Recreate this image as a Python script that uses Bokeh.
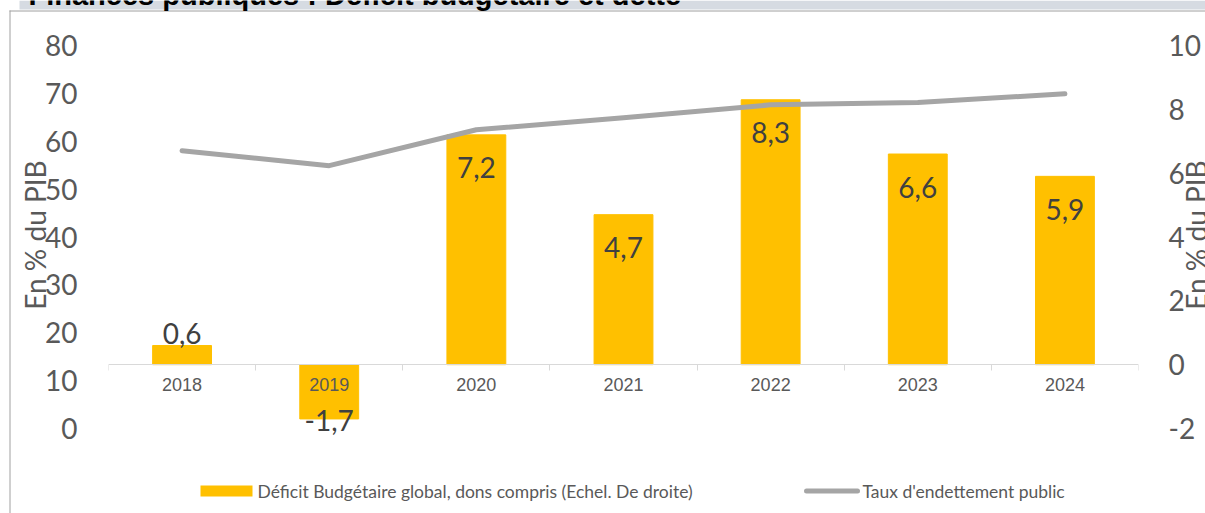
import math
from bokeh.plotting import figure
from bokeh.models import (Range1d, LinearAxis, FixedTicker, CustomJSTickFormatter, LabelSet, Label,
                          ColumnDataSource)
from bokeh.core.properties import value
from bokeh.embed import file_html
from bokeh.resources import INLINE

# ---------------- data ----------------
title = "Finances publiques : Déficit budgétaire et dette"
years = ["2018", "2019", "2020", "2021", "2022", "2023", "2024"]
deficit = [0.6, -1.7, 7.2, 4.7, 8.3, 6.6, 5.9]          # right axis
debt = [58.0, 54.9, 62.4, 64.9, 67.6, 68.1, 69.9]        # left axis
deficit_name = "Déficit Budgétaire global, dons compris (Echel. De droite)"
debt_name = "Taux d'endettement public"
axis_title = "En % du PIB"
left_ticks = list(range(0, 81, 10))
right_ticks = list(range(-2, 11, 2))

# ---------------- layout (pixels) ----------------
W, H = 1205, 513
FRAME_L, FRAME_R, FRAME_T, FRAME_B = 108, 1138, 45, 428   # plot area of the value scales
EXTRA = 14                                                # room below for the negative label
BAR_COL, LINE_COL = "#ffc000", "#a5a5a5"
TXT = "#595959"
ABS = {"position": "absolute", "left": "0px", "top": "0px"}

# ---------- background sheet: band, frame, titles, legend ----------
bg = figure(width=W, height=H, x_range=Range1d(0, W), y_range=Range1d(H, 0),
            x_axis_type=None, y_axis_type=None, toolbar_location=None, output_backend="svg",
            min_border=0)
bg.styles = ABS
bg.outline_line_color = None
bg.background_fill_color = "white"
bg.border_fill_color = "white"
bg.quad(left=19, right=W, top=0, bottom=9, fill_color="#d6dbe2", line_color=None)
bg.segment(x0=[9.5, 9], y0=[10, 10.5], x1=[9.5, W], y1=[H, 10.5], line_color="#a0a0a0", line_width=1)
bg.add_layout(Label(x=28, y=-6, text=title, text_font="Liberation Sans", text_font_style="bold",
                    text_font_size="29px", text_color="black", text_baseline="alphabetic"))
for xs in (34, 1195):
    bg.add_layout(Label(x=xs, y=(FRAME_T + FRAME_B) / 2 - 2, text=axis_title, angle=math.pi / 2,
                        text_align="center", text_baseline="middle",
                        text_font="Lato", text_font_size="28px", text_color=TXT))
# legend
leg_y = 490.5
bg.quad(left=200, right=252, top=leg_y - 5.5, bottom=leg_y + 5.5, fill_color=BAR_COL, line_color=None)
bg.segment(x0=[806], y0=[leg_y], x1=[857], y1=[leg_y], line_color=LINE_COL, line_width=5, line_cap="round")
bg.text(x=[257, 862], y=[leg_y, leg_y], text=[deficit_name, debt_name], text_baseline="middle",
        text_align="left", text_font=value("Lato"), text_font_size="17.5px", text_color=TXT)

# ---------------- main chart ----------------
left_px_per_unit = (FRAME_B - FRAME_T) / (left_ticks[-1] - left_ticks[0])
right_px_per_unit = (FRAME_B - FRAME_T) / (right_ticks[-1] - right_ticks[0])

p = figure(width=W, height=H, x_range=Range1d(-0.5, len(years) - 0.5),
           y_range=Range1d(left_ticks[0] - EXTRA / left_px_per_unit, left_ticks[-1]),
           x_axis_type=None, y_axis_type=None, toolbar_location=None, output_backend="svg",
           min_border_left=FRAME_L, min_border_right=W - FRAME_R, min_border_top=FRAME_T,
           min_border_bottom=H - FRAME_B - EXTRA)
p.styles = ABS
p.extra_y_ranges = {"right": Range1d(right_ticks[0] - EXTRA / right_px_per_unit, right_ticks[-1])}
p.outline_line_color = None
p.background_fill_alpha = 0
p.border_fill_alpha = 0

idx = list(range(len(years)))


def lab_offset(v):
    if v < 0:
        return -2
    if v < 2:
        return 12
    return -33


src = ColumnDataSource(dict(
    x=idx, deficit=deficit, debt=debt,
    lab=[f"{v:.1f}".replace(".", ",") for v in deficit],
    off=[lab_offset(v) for v in deficit],
))

p.vbar(x="x", top="deficit", bottom=0, width=0.4, color=BAR_COL, y_range_name="right", source=src)
p.line(x="x", y="debt", line_color=LINE_COL, line_width=5, line_join="round", line_cap="round", source=src)

fmt = CustomJSTickFormatter(code="return tick.toFixed(0)")
tick_font = dict(major_label_text_font="Lato", major_label_text_font_size="28px", major_label_text_color=TXT)
ly = LinearAxis(ticker=FixedTicker(ticks=left_ticks), formatter=fmt, axis_line_color=None,
                major_tick_line_color=None, minor_tick_line_color=None, major_tick_out=0, major_tick_in=0,
                major_label_standoff=31, **tick_font)
p.add_layout(ly, "left")
ry = LinearAxis(y_range_name="right", ticker=FixedTicker(ticks=right_ticks), formatter=fmt,
                axis_line_color=None, major_tick_line_color=None, minor_tick_line_color=None,
                major_tick_out=0, major_tick_in=0, major_label_standoff=30, **tick_font)
p.add_layout(ry, "right")

xa = LinearAxis(y_range_name="right", fixed_location=0,
                ticker=FixedTicker(ticks=idx, minor_ticks=[i - 0.5 for i in range(len(years) + 1)]),
                formatter=CustomJSTickFormatter(args=dict(cats=years), code="return cats[Math.round(tick)] ?? ''"),
                axis_line_color="#d9d9d9", major_tick_line_color=None, major_tick_out=0, major_tick_in=0,
                minor_tick_line_color="#d9d9d9", minor_tick_out=6, minor_tick_in=0,
                major_label_standoff=7, major_label_text_font="Liberation Sans",
                major_label_text_font_size="18px", major_label_text_color=TXT)
p.add_layout(xa, "below")

p.add_layout(LabelSet(x="x", y="deficit", text="lab", y_offset="off", y_range_name="right", source=src,
                      text_align="center", text_baseline="middle", text_font=value("Lato"),
                      text_font_size=value("28px"), text_color="#404040"))

open("out.html", "w").write(file_html([bg, p], INLINE))
